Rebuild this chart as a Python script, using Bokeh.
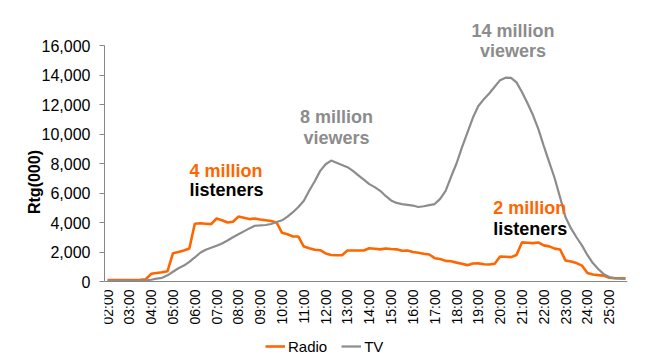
from bokeh.plotting import figure
from bokeh.models import (Range1d, FixedTicker, NumeralTickFormatter, Legend, LegendItem, Label, LinearAxis)
from bokeh.embed import file_html
from bokeh.resources import INLINE

# quarter-hour slots from 02:00 to 25:45 (hours as decimal numbers)
slots = [h + q / 4 for h in range(2, 26) for q in range(4)]

hour_ticks = [2, 3, 4, 5, 6, 7, 8, 9, 10, 11, 12, 13, 14, 15, 16, 17, 18, 19, 20, 21, 22, 23, 24, 25]
hour_labels = ["02:00", "03:00", "04:00", "05:00", "06:00", "07:00", "08:00", "09:00",
               "10:00", "11:00", "12:00", "13:00", "14:00", "15:00", "16:00", "17:00",
               "18:00", "19:00", "20:00", "21:00", "22:00", "23:00", "24:00", "25:00"]

radio = [100, 100, 100, 100, 100, 100, 110, 150,
         520, 580, 630, 700, 1920, 2000, 2100, 2240,
         3910, 3950, 3920, 3890, 4270, 4150, 4000, 4050,
         4400, 4320, 4230, 4270, 4200, 4150, 4100, 4000,
         3300, 3200, 3050, 3050, 2370, 2250, 2150, 2120,
         1900, 1800, 1780, 1780, 2100, 2100, 2100, 2100,
         2250, 2220, 2180, 2240, 2200, 2180, 2080, 2100,
         2000, 1950, 1880, 1830, 1580, 1530, 1400, 1370,
         1280, 1200, 1110, 1220, 1230, 1170, 1150, 1200,
         1700, 1680, 1650, 1800, 2650, 2630, 2600, 2650,
         2450, 2380, 2230, 2170, 1420, 1350, 1250, 1080,
         580, 480, 430, 400, 250, 230, 220, 220]

tv = [50, 50, 50, 50, 50, 50, 50, 70,
      120, 190, 250, 420, 660, 900, 1080, 1330,
      1630, 1950, 2150, 2290, 2420, 2580, 2780, 3000,
      3200, 3400, 3600, 3780, 3800, 3830, 3900, 4030,
      4150, 4400, 4700, 5050, 5480, 6170, 6800, 7500,
      7950, 8200, 8050, 7900, 7750, 7500, 7200, 6900,
      6600, 6400, 6150, 5800, 5500, 5330, 5250, 5200,
      5150, 5050, 5100, 5180, 5250, 5600, 6150, 7100,
      8000, 9100, 10100, 11100, 11900, 12350, 12750, 13200,
      13650, 13820, 13800, 13500, 12850, 12100, 11300, 10350,
      9200, 8100, 7000, 5700, 4350, 3600, 3000, 2450,
      1800, 1250, 850, 500, 300, 220, 190, 170]

y_ticks = [0, 2000, 4000, 6000, 8000, 10000, 12000, 14000, 16000]
y_min, y_max = 0, 16000

ORANGE = "#FF6600"
GREY = "#8C8C8C"
AXIS = "#868686"
FONT = "Liberation Sans"

# the frame reaches above and below the value axis so that the notes and the
# legend (which sit outside the 0..16000 band) are not clipped
p = figure(width=640, height=358, output_backend="svg", toolbar_location=None,
           x_range=Range1d(1.86, 25.84), y_range=Range1d(-5220, 18712),
           x_axis_location=None,
           min_border_left=104, min_border_right=13, min_border_top=5, min_border_bottom=0)
p.outline_line_color = None
p.xgrid.visible = False
p.ygrid.visible = False
p.background_fill_color = "white"
p.border_fill_color = "white"

r_radio = p.line(slots, radio, line_color=ORANGE, line_width=2.6)
r_tv = p.line(slots, tv, line_color=GREY, line_width=2.2)

# y axis (limited to the value band)
p.yaxis.bounds = (y_min, y_max)
p.yaxis.ticker = FixedTicker(ticks=y_ticks)
p.yaxis.formatter = NumeralTickFormatter(format="0,0")
p.yaxis.axis_line_color = AXIS
p.yaxis.major_tick_line_color = AXIS
p.yaxis.major_tick_out = 5
p.yaxis.major_tick_in = 0
p.yaxis.minor_tick_line_color = None
p.yaxis.major_label_text_font = FONT
p.yaxis.major_label_text_font_size = "16px"
p.yaxis.major_label_text_color = "black"
p.yaxis.major_label_standoff = 9
p.yaxis.axis_label = "Rtg(000)"
p.yaxis.axis_label_text_font = FONT
p.yaxis.axis_label_text_font_size = "16px"
p.yaxis.axis_label_text_font_style = "bold"
p.yaxis.axis_label_text_color = "black"
p.yaxis.axis_label_standoff = -4

# x axis, fixed at value 0
xaxis = LinearAxis(fixed_location=0)
xaxis.ticker = FixedTicker(ticks=hour_ticks)
xaxis.major_label_overrides = {t: l for t, l in zip(hour_ticks, hour_labels)}
xaxis.major_label_orientation = 3.14159265 / 2
xaxis.axis_line_color = AXIS
xaxis.major_tick_out = 0
xaxis.major_tick_in = 0
xaxis.minor_tick_line_color = None
xaxis.major_label_text_font = FONT
xaxis.major_label_text_font_size = "14px"
xaxis.major_label_text_color = "black"
xaxis.major_label_standoff = 8
p.add_layout(xaxis, "below")

# annotations
notes = [
    ("4 million", 5.76, 7525, ORANGE, "left"),
    ("listeners", 5.76, 6170, "black", "left"),
    ("8 million", 12.50, 11150, GREY, "center"),
    ("viewers", 12.50, 9700, GREY, "center"),
    ("14 million", 20.59, 17000, GREY, "center"),
    ("viewers", 20.59, 15600, GREY, "center"),
    ("2 million", 19.68, 4950, ORANGE, "left"),
    ("listeners", 19.68, 3590, "black", "left"),
]
for txt, x, y, col, align in notes:
    p.add_layout(Label(x=x, y=y, text=txt, text_color=col, text_font=FONT,
                       text_font_size="18px", text_font_style="bold",
                       text_align=align, text_baseline="middle"))

legend = Legend(items=[LegendItem(label="Radio", renderers=[r_radio]),
                       LegendItem(label="TV", renderers=[r_tv])],
                orientation="horizontal", location=(161, 2))
legend.border_line_color = None
legend.background_fill_alpha = 0
legend.label_text_font = FONT
legend.label_text_font_size = "15px"
legend.label_text_color = "black"
legend.glyph_width = 20
legend.label_standoff = 3
legend.spacing = 14
legend.padding = 2
legend.margin = 0
p.add_layout(legend)

open("out.html", "w").write(file_html(p, INLINE))
